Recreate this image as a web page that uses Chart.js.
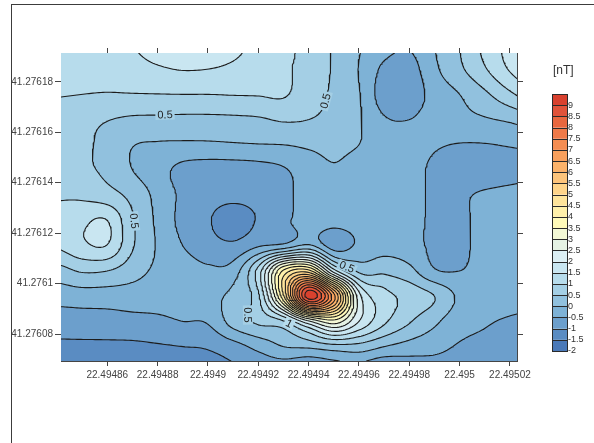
<!DOCTYPE html>
<html>
<head>
<meta charset="utf-8">
<title>Magnetic anomaly map</title>
<script src="https://cdn.jsdelivr.net/npm/chart.js"></script>
<style>
  html, body { margin: 0; padding: 0; background: #fff; }
  #wrap { position: relative; width: 594px; height: 443px; overflow: hidden; }
  #frame { position: absolute; left: 11px; top: 4px; width: 700px; height: 600px;
           border-left: 1px solid #3c3c3c; border-top: 1px solid #3c3c3c; }
  #map { position: absolute; left: 0; top: 0; }
</style>
</head>
<body>
<div id="wrap">
  <div id="frame"></div>
  <canvas id="map" width="594" height="443"></canvas>
</div>
<script>
// gridded total-field anomaly [nT], node spacing 0.00001 deg
const lonNodes = [22.49484, 22.49485, 22.49486, 22.49487, 22.49488, 22.49489, 22.4949, 22.49491, 22.49492, 22.49493,
                  22.49494, 22.49495, 22.49496, 22.49497, 22.49498, 22.49499, 22.495, 22.49501, 22.49502, 22.49503];
const latNodes = [41.276195, 41.276185, 41.276175, 41.276165, 41.276155, 41.276145, 41.276135,
                  41.276125, 41.276115, 41.276105, 41.276095, 41.276085, 41.276075, 41.276065];
const nodeStep = 0.00001;

const lat41_276195 = [1.3, 1.32, 1.38, 1.5, 1.65, 1.75, 1.72, 1.6, 1.4, 1.15, 0.85, 0.45, 0.05, -0.3, -0.45, 0.0, 0.5, 1.15, 1.7, 2.1];
const lat41_276185 = [1.2, 1.22, 1.25, 1.35, 1.45, 1.52, 1.5, 1.42, 1.3, 1.12, 0.75, 0.45, -0.02, -0.6, -0.7, -0.1, 0.4, 0.95, 1.55, 2.0];
const lat41_276175 = [1.03, 1.0, 0.97, 0.98, 0.99, 1.0, 1.0, 1.02, 1.03, 1.05, 0.7, 0.42, 0.03, -0.75, -0.8, -0.3, 0.0, 0.4, 0.9, 1.35];
const lat41_276165 = [0.75, 0.65, 0.52, 0.42, 0.4, 0.38, 0.38, 0.4, 0.44, 0.55, 0.5, 0.35, 0.05, -0.45, -0.5, -0.3, -0.15, -0.05, 0.08, 0.3];
const lat41_276155 = [0.72, 0.6, 0.35, 0.02, -0.05, -0.08, -0.08, -0.05, -0.02, 0.0, 0.07, 0.12, 0.0, -0.25, -0.3, -0.45, -0.52, -0.52, -0.47, -0.42];
const lat41_276145 = [0.75, 0.62, 0.38, 0.0, -0.3, -0.65, -0.75, -0.75, -0.7, -0.55, -0.25, -0.05, -0.2, -0.25, -0.3, -0.6, -0.68, -0.68, -0.62, -0.55];
const lat41_276135 = [0.95, 0.9, 0.7, 0.35, -0.15, -0.6, -0.8, -0.85, -0.8, -0.6, -0.35, -0.25, -0.2, -0.2, -0.3, -0.58, -0.55, -0.45, -0.4, -0.38];
const lat41_276125 = [1.15, 1.4, 1.5, 0.55, -0.1, -0.65, -0.95, -1.3, -0.95, -0.62, -0.25, -0.3, -0.25, -0.2, -0.3, -0.6, -0.6, -0.35, -0.3, -0.3];
const lat41_276115 = [1.05, 1.4, 1.48, 0.55, -0.05, -0.5, -0.8, -0.9, -0.55, -0.35, 0.1, -0.75, -0.4, -0.2, -0.3, -0.6, -0.6, -0.35, -0.3, -0.3];
const lat41_276105 = [0.3, 0.55, 0.5, 0.2, -0.1, -0.25, -0.4, -0.25, 1.2, 4.1, 4.7, 1.75, 0.4, 0.4, 0.15, -0.45, -0.5, -0.35, -0.3, -0.3];
const lat41_276095 = [-0.3, -0.25, -0.25, -0.25, -0.3, -0.3, -0.15, 0.15, 0.9, 4.4, 9.3, 6.7, 2.2, 1.2, 0.85, 0.5, -0.1, -0.3, -0.35, -0.4];
const lat41_276085 = [-0.75, -0.72, -0.7, -0.65, -0.6, -0.5, -0.45, 0.2, 0.6, 0.95, 2.4, 3.3, 2.0, 1.1, 0.55, 0.1, -0.3, -0.45, -0.55, -0.6];
const lat41_276075 = [-1.1, -1.1, -1.1, -1.1, -1.05, -1.0, -0.95, -0.7, -0.35, 0.0, 0.1, 0.3, 0.3, 0.0, -0.2, -0.35, -0.55, -0.65, -0.8, -0.9];
const lat41_276065 = [-1.4, -1.4, -1.4, -1.4, -1.35, -1.3, -1.25, -1.1, -0.95, -0.9, -1.05, -0.85, -0.8, -1.1, -0.9, -0.75, -0.8, -0.9, -1.05, -1.15];

const gridRows = [lat41_276195, lat41_276185, lat41_276175, lat41_276165, lat41_276155, lat41_276145, lat41_276135,
                  lat41_276125, lat41_276115, lat41_276105, lat41_276095, lat41_276085, lat41_276075, lat41_276065];

// contour levels and the fill colour of each band between them
const levels = [-2, -1.5, -1, -0.5, 0, 0.5, 1, 1.5, 2, 2.5, 3, 3.5, 4, 4.5, 5, 5.5, 6, 6.5, 7, 7.5, 8, 8.5, 9, 9.5];
const levelLabels = ['-2', '-1.5', '-1', '-0.5', '0', '0.5', '1', '1.5', '2', '2.5', '3', '3.5',
                     '4', '4.5', '5', '5.5', '6', '6.5', '7', '7.5', '8', '8.5', '9'];
const bandColors = ['#4a79b8', '#5a8cc2', '#6c9fcc', '#7eb2d6', '#91c1de', '#a4cfe5', '#b7dcec', '#c9e6f1',
                    '#dbeef3', '#e5f2e4', '#f3f8d5', '#fffab9', '#fff0aa', '#fee49b', '#fed48a', '#fdc47b',
                    '#fbb26a', '#f8a05d', '#f48d52', '#ef7a49', '#e8673f', '#e0533a', '#d8412e'];

const lonTicks = [22.49486, 22.49488, 22.4949, 22.49492, 22.49494, 22.49496, 22.49498, 22.495, 22.49502];
const lonTickLabels = ['22.49486', '22.49488', '22.4949', '22.49492', '22.49494', '22.49496', '22.49498', '22.495', '22.49502'];
const latTicks = [41.27608, 41.2761, 41.27612, 41.27614, 41.27616, 41.27618];
const latTickLabels = ['41.27608', '41.2761', '41.27612', '41.27614', '41.27616', '41.27618'];

const lonMin = 22.4948416, lonMax = 22.4950228;
const latMin = 41.2760693, latMax = 41.2761914;

// where the level labels sit along their lines
const contourLabels = [
  { text: '0.5', level: 0.5, lon: 22.4948833, lat: 41.2761676 },
  { text: '0.5', level: 0.5, lon: 22.4949464, lat: 41.2761727 },
  { text: '0.5', level: 0.5, lon: 22.4948690, lat: 41.2761243 },
  { text: '0.5', level: 0.5, lon: 22.4949555, lat: 41.2761081 },
  { text: '0.5', level: 0.5, lon: 22.4949135, lat: 41.2760874 },
  { text: '1',   level: 1,   lon: 22.4949333, lat: 41.2760862 }
];

const bandRGB = bandColors.map(h => [1, 3, 5].map(k => parseInt(h.substr(k, 2), 16)));

function catmullRom(p0, p1, p2, p3, t) {
  return 0.5 * (2 * p1 + (p2 - p0) * t + (2 * p0 - 5 * p1 + 4 * p2 - p3) * t * t +
                (3 * p1 - p0 - 3 * p2 + p3) * t * t * t);
}

function nodeValue(i, j) {
  const r = Math.min(Math.max(i, 0), gridRows.length - 1);
  const c = Math.min(Math.max(j, 0), lonNodes.length - 1);
  return gridRows[r][c];
}

// bicubic value of the grid at a map position
function fieldAt(lon, lat) {
  const gx = (lon - lonNodes[0]) / nodeStep;
  const gy = (latNodes[0] - lat) / nodeStep;
  const j = Math.floor(gx), i = Math.floor(gy);
  const tx = gx - j, ty = gy - i;
  const r = [];
  for (let m = -1; m <= 2; m++) {
    r.push(catmullRom(nodeValue(i + m, j - 1), nodeValue(i + m, j), nodeValue(i + m, j + 1), nodeValue(i + m, j + 2), tx));
  }
  return catmullRom(r[0], r[1], r[2], r[3], ty);
}

function bandOf(v) {
  for (let k = bandColors.length - 1; k > 0; k--) {
    if (v >= levels[k]) return k;
  }
  return 0;
}

// sample the surface finely, then run marching squares per level
const sampleCols = 229, sampleRows = 155;
const dLon = (lonMax - lonMin) / (sampleCols - 1);
const dLat = (latMax - latMin) / (sampleRows - 1);
const samples = new Float64Array(sampleCols * sampleRows);
for (let i = 0; i < sampleRows; i++) {
  for (let j = 0; j < sampleCols; j++) {
    samples[i * sampleCols + j] = fieldAt(lonMin + j * dLon, latMax - i * dLat);
  }
}

function traceLevel(level) {
  const nx = sampleCols, ny = sampleRows, H = nx * ny;
  const pts = new Map();
  const segs = [];
  const put = (id, x, y) => { if (!pts.has(id)) pts.set(id, { x, y }); return id; };
  for (let i = 0; i < ny - 1; i++) {
    for (let j = 0; j < nx - 1; j++) {
      const a = samples[i * nx + j], b = samples[i * nx + j + 1];
      const c = samples[(i + 1) * nx + j + 1], d = samples[(i + 1) * nx + j];
      const code = (a > level ? 8 : 0) | (b > level ? 4 : 0) | (c > level ? 2 : 0) | (d > level ? 1 : 0);
      if (code === 0 || code === 15) continue;
      const top = () => put(i * nx + j, lonMin + (j + (level - a) / (b - a)) * dLon, latMax - i * dLat);
      const bottom = () => put((i + 1) * nx + j, lonMin + (j + (level - d) / (c - d)) * dLon, latMax - (i + 1) * dLat);
      const left = () => put(H + i * nx + j, lonMin + j * dLon, latMax - (i + (level - a) / (d - a)) * dLat);
      const right = () => put(H + i * nx + j + 1, lonMin + (j + 1) * dLon, latMax - (i + (level - b) / (c - b)) * dLat);
      switch (code) {
        case 1: case 14: segs.push([left(), bottom()]); break;
        case 2: case 13: segs.push([bottom(), right()]); break;
        case 3: case 12: segs.push([left(), right()]); break;
        case 4: case 11: segs.push([top(), right()]); break;
        case 6: case 9: segs.push([top(), bottom()]); break;
        case 7: case 8: segs.push([left(), top()]); break;
        case 5: case 10: {
          const centreHigh = (a + b + c + d) / 4 > level;
          if ((code === 5) === centreHigh) {
            segs.push([left(), top()]); segs.push([bottom(), right()]);
          } else {
            segs.push([top(), right()]); segs.push([left(), bottom()]);
          }
          break;
        }
      }
    }
  }
  // join the cell pieces into polylines
  const adj = new Map();
  segs.forEach((s, k) => s.forEach(e => { if (!adj.has(e)) adj.set(e, []); adj.get(e).push(k); }));
  const used = new Uint8Array(segs.length);
  const walk = start => {
    const out = [];
    let end = start;
    for (;;) {
      const next = (adj.get(end) || []).find(k => !used[k]);
      if (next === undefined) break;
      used[next] = 1;
      end = segs[next][0] === end ? segs[next][1] : segs[next][0];
      out.push(end);
    }
    return out;
  };
  const lines = [];
  for (let k = 0; k < segs.length; k++) {
    if (used[k]) continue;
    used[k] = 1;
    const fwd = walk(segs[k][1]);
    const back = walk(segs[k][0]);
    const ids = back.reverse().concat([segs[k][0], segs[k][1]], fwd);
    lines.push(ids.map(id => pts.get(id)));
  }
  return lines;
}

const contourLines = [];
levels.slice(1, -1).forEach(level => {
  traceLevel(level).forEach(pts => contourLines.push({ level, pts }));
});
const contourPoints = [];
contourLines.forEach(l => {
  l.pts.forEach(p => contourPoints.push(p));
  contourPoints.push({ x: NaN, y: NaN });
});

// colour-filled bands under the contour lines
const bandFill = {
  id: 'bandFill',
  beforeDatasetsDraw(chart) {
    const { ctx, chartArea: a, scales: { x, y } } = chart;
    const w = Math.round(a.right - a.left), h = Math.round(a.bottom - a.top);
    const off = document.createElement('canvas');
    off.width = w; off.height = h;
    const octx = off.getContext('2d');
    const img = octx.createImageData(w, h);
    const lons = [], lats = [];
    for (let px = 0; px < w; px++) { lons.push(x.getValueForPixel(a.left + px + 0.25), x.getValueForPixel(a.left + px + 0.75)); }
    for (let py = 0; py < h; py++) { lats.push(y.getValueForPixel(a.top + py + 0.25), y.getValueForPixel(a.top + py + 0.75)); }
    for (let py = 0; py < h; py++) {
      for (let px = 0; px < w; px++) {
        let r = 0, g = 0, b = 0;
        for (let sy = 0; sy < 2; sy++) {
          for (let sx = 0; sx < 2; sx++) {
            const c = bandRGB[bandOf(fieldAt(lons[px * 2 + sx], lats[py * 2 + sy]))];
            r += c[0]; g += c[1]; b += c[2];
          }
        }
        const o = (py * w + px) * 4;
        img.data[o] = r / 4; img.data[o + 1] = g / 4; img.data[o + 2] = b / 4; img.data[o + 3] = 255;
      }
    }
    octx.putImageData(img, 0, 0);
    ctx.drawImage(off, a.left, a.top);
  }
};

// level labels laid along the nearest line of their level
const contourText = {
  id: 'contourText',
  afterDatasetsDraw(chart) {
    const { ctx, scales: { x, y } } = chart;
    ctx.save();
    ctx.font = "11px 'Liberation Sans', Arial, sans-serif";
    ctx.textAlign = 'center';
    ctx.textBaseline = 'middle';
    contourLabels.forEach(lab => {
      const ax = x.getPixelForValue(lab.lon), ay = y.getPixelForValue(lab.lat);
      let best = null, bestD = Infinity;
      contourLines.forEach(line => {
        if (line.level !== lab.level) return;
        line.pts.forEach((p, k) => {
          const px = x.getPixelForValue(p.x), py = y.getPixelForValue(p.y);
          const d = (px - ax) * (px - ax) + (py - ay) * (py - ay);
          if (d < bestD) { bestD = d; best = { pts: line.pts, k, px, py }; }
        });
      });
      if (!best) return;
      const p0 = best.pts[Math.max(0, best.k - 3)], p1 = best.pts[Math.min(best.pts.length - 1, best.k + 3)];
      let ang = Math.atan2(y.getPixelForValue(p1.y) - y.getPixelForValue(p0.y),
                           x.getPixelForValue(p1.x) - x.getPixelForValue(p0.x));
      if (ang > Math.PI / 2) ang -= Math.PI;
      if (ang < -Math.PI / 2) ang += Math.PI;
      const w = ctx.measureText(lab.text).width + 4;
      ctx.save();
      ctx.translate(best.px, best.py);
      ctx.rotate(ang);
      ctx.fillStyle = bandColors[bandOf(lab.level + 0.01)];
      ctx.fillRect(-w / 2, -5, w, 10);
      ctx.fillStyle = '#222';
      ctx.fillText(lab.text, 0, 0.5);
      ctx.restore();
    });
    ctx.restore();
  }
};

// colour scale on the right
const colorScale = {
  id: 'colorScale',
  afterDraw(chart) {
    const { ctx } = chart;
    const left = 552, width = 15, top = 94, bottom = 351;
    const step = (bottom - top) / bandColors.length;
    ctx.save();
    bandColors.forEach((c, k) => {
      ctx.fillStyle = c;
      ctx.fillRect(left, bottom - (k + 1) * step, width, step);
    });
    ctx.strokeStyle = '#2a2a2a';
    ctx.lineWidth = 1;
    ctx.beginPath();
    for (let k = 1; k < bandColors.length; k++) {
      const yy = Math.round(bottom - k * step) + 0.5;
      ctx.moveTo(left, yy);
      ctx.lineTo(left + width, yy);
    }
    ctx.stroke();
    ctx.strokeRect(left + 0.5, top + 0.5, width, bottom - top);
    ctx.fillStyle = '#333';
    ctx.font = "9px 'Liberation Sans', Arial, sans-serif";
    ctx.textAlign = 'left';
    ctx.textBaseline = 'middle';
    levelLabels.forEach((t, k) => ctx.fillText(t, left + width + 1, bottom - k * step));
    ctx.font = "12px 'Liberation Sans', Arial, sans-serif";
    ctx.fillText('[nT]', 553, 71);
    ctx.restore();
  }
};

const axisColor = '#454545';
const tickFont = { family: "'Liberation Sans', Arial, sans-serif", size: 10 };
const fixedTicks = values => scale => { scale.ticks = values.map(v => ({ value: v })); };

new Chart(document.getElementById('map'), {
  type: 'scatter',
  data: {
    datasets: [{
      data: contourPoints,
      showLine: true,
      pointRadius: 0,
      pointHoverRadius: 0,
      borderColor: '#1c1c1c',
      borderWidth: 1.1,
      borderCapStyle: 'round',
      borderJoinStyle: 'round',
      spanGaps: false,
      tension: 0
    }]
  },
  options: {
    responsive: false,
    animation: false,
    events: [],
    parsing: false,
    layout: { padding: { left: 0, top: 47, right: 71, bottom: 52 } },
    plugins: { legend: { display: false }, tooltip: { enabled: false } },
    scales: {
      x: {
        type: 'linear', position: 'bottom', min: lonMin, max: lonMax, z: 1,
        afterBuildTicks: fixedTicks(lonTicks),
        afterFit: s => { s.height = 30; },
        ticks: { autoSkip: false, maxRotation: 0, minRotation: 0, padding: 3, color: '#444', font: tickFont,
                 callback: (v, i) => lonTickLabels[i] },
        grid: { drawOnChartArea: false, drawTicks: true, tickLength: 5, color: axisColor },
        border: { display: true, color: axisColor, width: 1 }
      },
      x2: {
        type: 'linear', axis: 'x', position: 'top', min: lonMin, max: lonMax, z: 1,
        afterBuildTicks: fixedTicks(lonTicks),
        afterFit: s => { s.height = 6; },
        ticks: { display: false },
        grid: { drawOnChartArea: false, drawTicks: true, tickLength: 5, color: axisColor },
        border: { display: true, color: axisColor, width: 1 }
      },
      y: {
        type: 'linear', position: 'left', min: latMin, max: latMax, z: 1,
        afterBuildTicks: fixedTicks(latTicks),
        afterFit: s => { s.width = 61; },
        ticks: { autoSkip: false, padding: 2, color: '#444', font: tickFont,
                 callback: (v, i) => latTickLabels[i] },
        grid: { drawOnChartArea: false, drawTicks: true, tickLength: 6, color: axisColor },
        border: { display: true, color: axisColor, width: 1 }
      },
      y2: {
        type: 'linear', axis: 'y', position: 'right', min: latMin, max: latMax, z: 1,
        afterBuildTicks: fixedTicks(latTicks),
        afterFit: s => { s.width = 6; },
        ticks: { display: false },
        grid: { drawOnChartArea: false, drawTicks: true, tickLength: 6, color: axisColor },
        border: { display: true, color: axisColor, width: 1 }
      }
    }
  },
  plugins: [bandFill, contourText, colorScale]
});
</script>
</body>
</html>
